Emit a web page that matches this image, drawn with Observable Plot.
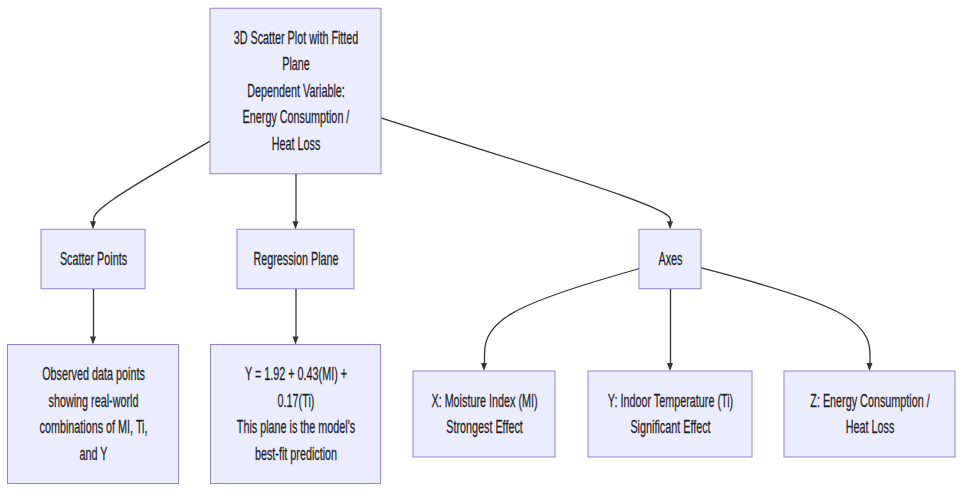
<!DOCTYPE html>
<html>
<head>
<meta charset="utf-8">
<script src="https://cdn.jsdelivr.net/npm/d3@7"></script>
<script src="https://cdn.jsdelivr.net/npm/@observablehq/plot@0.6"></script>
<style>
html, body { margin: 0; padding: 0; background: #ffffff; }
#chart { width: 960px; height: 490px; }
</style>
</head>
<body>
<div id="chart"></div>
<script>
// ---------- data ----------
const nodeIds = ["root", "scatter", "plane", "axes", "observed", "equation", "xAxis", "yAxis", "zAxis"];
const nodeLabels = [
  "3D Scatter Plot with Fitted\nPlane\nDependent Variable:\nEnergy Consumption /\nHeat Loss",
  "Scatter Points",
  "Regression Plane",
  "Axes",
  "Observed data points\nshowing real-world\ncombinations of MI, Ti,\nand Y",
  "Y = 1.92 + 0.43(MI) +\n0.17(Ti)\nThis plane is the model's\nbest-fit prediction",
  "X: Moisture Index (MI)\nStrongest Effect",
  "Y: Indoor Temperature (Ti)\nSignificant Effect",
  "Z: Energy Consumption /\nHeat Loss"
];
const edgeFrom = ["root", "root", "root", "scatter", "plane", "axes", "axes", "axes"];
const edgeTo   = ["scatter", "plane", "axes", "observed", "equation", "xAxis", "yAxis", "zAxis"];

// ---------- layout (diagram geometry) ----------
const W = 960, H = 490;
const rankCenterY = [91, 259, 414];
const lineStep = 26.5, boxPad = 33, fontSize = 18, textSqueeze = 0.6;
const nodeCenterX = {root: 295.5, scatter: 93, plane: 295.5, axes: 670, observed: 93, equation: 295.5, xAxis: 484, yAxis: 670, zAxis: 869.5};
const nodeWidth   = {root: 171, scatter: 104, plane: 117, axes: 62, observed: 171, equation: 170, xAxis: 142, yAxis: 164, zAxis: 171};
const bendY = {root: 208, scatter: 316, plane: 316, axes: 313};
const arrowLen = 8, arrowHalf = 3;

// ranks derived from the edges
const rank = {root: 0};
for (let k = 0; k < 3; k++) edgeFrom.forEach((f, i) => { if (rank[f] != null) rank[edgeTo[i]] = rank[f] + 1; });

const nodes = nodeIds.map((id, i) => {
  const label = nodeLabels[i];
  const lines = label.split("\n").length;
  const h = lines * lineStep + boxPad;
  const cx = nodeCenterX[id], cy = rankCenterY[rank[id]], w = nodeWidth[id];
  return {id, label, cx, cy, x1: cx - w / 2, x2: cx + w / 2, y1: cy - h / 2, y2: cy + h / 2};
});
const byId = Object.fromEntries(nodes.map(n => [n.id, n]));

const edgePts = [], arrows = [];
edgeFrom.forEach((f, i) => {
  const s = byId[f], t = byId[edgeTo[i]];
  const p1 = {x: t.cx, y: bendY[f]};
  const p2 = {x: t.cx, y: t.y1 - arrowLen};
  let p0;
  const dx = p1.x - s.cx, dy = p1.y - s.cy;
  if (Math.abs(dx) < 0.5) p0 = {x: s.cx, y: s.y2};
  else {
    const side = dx < 0 ? s.x1 : s.x2;
    const tx = (side - s.cx) / dx, ty = (s.y2 - s.cy) / dy;
    const tt = Math.min(tx, ty);
    p0 = {x: s.cx + tt * dx, y: s.cy + tt * dy};
  }
  [p0, p1, p2].forEach(p => edgePts.push({edge: i, x: p.x, y: p.y}));
  arrows.push({edge: i, y: t.y1 - arrowLen, x1: t.cx - arrowHalf, x2: t.cx + arrowHalf});
  arrows.push({edge: i, y: t.y1, x1: t.cx, x2: t.cx});
});

const plot = Plot.plot({
  width: W,
  height: H,
  margin: 0,
  x: {domain: [0, W], range: [0, W], axis: null},
  y: {domain: [0, H], range: [0, H], axis: null},
  style: {background: "#ffffff", overflow: "visible"},
  marks: [
    Plot.line(edgePts, {x: "x", y: "y", z: "edge", curve: "basis", stroke: "#333333", strokeWidth: 1.3}),
    Plot.areaX(arrows, {y: "y", x1: "x1", x2: "x2", z: "edge", fill: "#333333", curve: "linear"}),
    Plot.rect(nodes, {x1: "x1", x2: "x2", y1: "y1", y2: "y2", fill: "#ECECFF", stroke: "#9683cf", strokeWidth: 1}),
    Plot.text(nodes, {
      x: "cx", y: "cy", text: "label", dy: -3,
      fontSize, lineHeight: lineStep / fontSize, lineAnchor: "middle",
      fill: "#1e1e1e", stroke: "#1e1e1e", strokeWidth: 0.25,
      fontFamily: "'Liberation Sans', Arial, sans-serif"
    })
  ]
});

// condense node labels horizontally (the reference uses a narrow face)
plot.querySelectorAll("g[aria-label='text'] text").forEach(t => {
  const tr = t.getAttribute("transform") || "";
  t.setAttribute("transform", tr + ` scale(${textSqueeze},1)`);
});

document.getElementById("chart").appendChild(plot);
</script>
</body>
</html>
